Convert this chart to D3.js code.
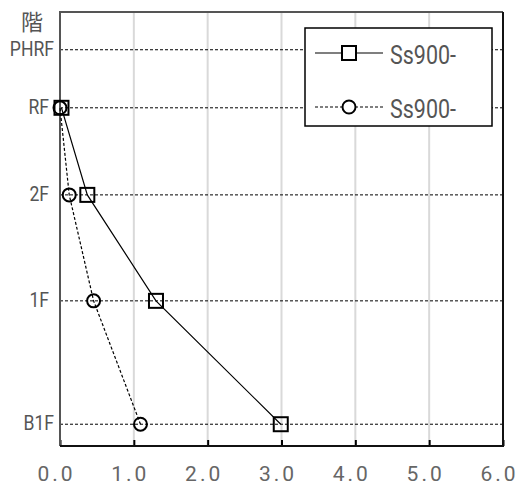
<!DOCTYPE html>
<html>
<head>
<meta charset="utf-8">
<script src="https://cdn.jsdelivr.net/npm/d3@7"></script>
<style>
  body { margin: 0; background: #fff; }
</style>
</head>
<body>
<div id="chart"></div>
<script>
// floors and their heights (m, from B1F)
var floors = ['B1F', '1F', '2F', 'RF', 'PHRF'];
var floorHeights = [0, 4.25, 7.9, 10.9, 12.9];

// two series, values per floor (B1F .. RF)
var seriesNames = ['Ss900-', 'Ss900-'];
var squareVals = [2.99, 1.30, 0.37, 0.02];
var circleVals = [1.09, 0.455, 0.125, 0.0];

var xTicks = [0, 1, 2, 3, 4, 5, 6];

var margin = {top: 12, right: 16, bottom: 44, left: 60},
    width = 519 - margin.left - margin.right,
    height = 490 - margin.top - margin.bottom;

var x = d3.scaleLinear().domain([0, 6]).range([0, width]);
var y = d3.scaleLinear().domain([-0.75, 14.2]).range([height, 0]);

var svg = d3.select('#chart').append('svg')
    .attr('width', 519)
    .attr('height', 490)
  .append('g')
    .attr('transform', 'translate(' + margin.left + ',' + margin.top + ')');

// vertical grid
svg.selectAll('.vgrid')
    .data(xTicks.slice(1, -1))
  .enter().append('line')
    .attr('x1', function(d) { return x(d); })
    .attr('x2', function(d) { return x(d); })
    .attr('y1', 0)
    .attr('y2', height)
    .attr('stroke', '#d9d9d9')
    .attr('stroke-width', 2);

// floor lines
svg.selectAll('.hgrid')
    .data(floorHeights)
  .enter().append('line')
    .attr('x1', 0)
    .attr('x2', width)
    .attr('y1', function(d) { return y(d); })
    .attr('y2', function(d) { return y(d); })
    .attr('stroke', '#000')
    .attr('stroke-width', 1)
    .attr('stroke-dasharray', '3,2');

// bottom axis, ticks pointing inward
var xAxis = svg.append('g')
    .attr('transform', 'translate(0,' + height + ')')
    .call(d3.axisBottom(x)
      .tickValues(xTicks)
      .tickSizeInner(-6)
      .tickSizeOuter(0)
      .tickFormat(d3.format('.1f')));
xAxis.select('.domain').remove();
xAxis.selectAll('line').attr('stroke', '#000').attr('stroke-width', 2);
xAxis.selectAll('text')
    .attr('y', 35)
    .attr('dy', 0)
    .attr('dx', -4)
    .attr('fill', '#666')
    .style('font-family', 'Roboto, sans-serif')
    .style('font-size', '21px')
    .style('letter-spacing', '3px');

// floor labels (narrowed)
svg.selectAll('.ylab')
    .data(floors)
  .enter().append('g')
    .attr('transform', function(d, i) {
      var dx = d.length > 2 ? -6 : -11;
      return 'translate(' + dx + ',' + y(floorHeights[i]) + ') scale(0.88,1)';
    })
  .append('text')
    .attr('dy', '0.3em')
    .attr('text-anchor', 'end')
    .attr('fill', '#555')
    .style('font-family', 'Roboto, sans-serif')
    .style('font-size', '20px')
    .text(function(d) { return d; });

svg.append('text')
    .attr('x', -28)
    .attr('y', 18)
    .attr('text-anchor', 'middle')
    .attr('fill', '#555')
    .style('font-family', '"Noto Sans CJK JP", sans-serif')
    .style('font-size', '22px')
    .text('階');

// frame
svg.append('path')
    .attr('d', 'M0,' + height + 'V0H' + width)
    .attr('fill', 'none')
    .attr('stroke', '#555')
    .attr('stroke-width', 2);
svg.append('path')
    .attr('d', 'M' + width + ',0V' + height + 'H0')
    .attr('fill', 'none')
    .attr('stroke', '#111')
    .attr('stroke-width', 2);

var pts = function(vals) {
  return vals.map(function(v, i) { return {x: v, y: floorHeights[i]}; });
};

var line = d3.line()
    .x(function(d) { return x(d.x); })
    .y(function(d) { return y(d.y); });

svg.append('path')
    .datum(pts(circleVals))
    .attr('fill', 'none')
    .attr('stroke', '#000')
    .attr('stroke-width', 1.2)
    .attr('stroke-dasharray', '3,2')
    .attr('d', line);

svg.append('path')
    .datum(pts(squareVals))
    .attr('fill', 'none')
    .attr('stroke', '#000')
    .attr('stroke-width', 1.2)
    .attr('d', line);

svg.selectAll('.sq')
    .data(pts(squareVals))
  .enter().append('rect')
    .attr('x', function(d) { return x(d.x) - 7; })
    .attr('y', function(d) { return y(d.y) - 7; })
    .attr('width', 14)
    .attr('height', 14)
    .attr('fill', 'none')
    .attr('stroke', '#000')
    .attr('stroke-width', 2);

svg.selectAll('.ci')
    .data(pts(circleVals))
  .enter().append('circle')
    .attr('cx', function(d) { return x(d.x); })
    .attr('cy', function(d) { return y(d.y); })
    .attr('r', 6.5)
    .attr('fill', 'none')
    .attr('stroke', '#000')
    .attr('stroke-width', 2);

// legend
var lg = svg.append('g')
    .attr('transform', 'translate(' + (305 - margin.left) + ',' + (28 - margin.top) + ')');

lg.append('rect')
    .attr('width', 187)
    .attr('height', 98)
    .attr('fill', '#fff')
    .attr('stroke', '#000')
    .attr('stroke-width', 1.5);

var rows = lg.selectAll('.row')
    .data(seriesNames)
  .enter().append('g')
    .attr('transform', function(d, i) { return 'translate(0,' + (25 + i * 54) + ')'; });

rows.append('line')
    .attr('x1', 10)
    .attr('x2', 78)
    .attr('stroke', '#000')
    .attr('stroke-width', 1.2)
    .attr('stroke-dasharray', function(d, i) { return i ? '3,2' : null; });

rows.filter(function(d, i) { return i === 0; })
  .append('rect')
    .attr('x', 37).attr('y', -7)
    .attr('width', 14).attr('height', 14)
    .attr('fill', '#fff')
    .attr('stroke', '#000')
    .attr('stroke-width', 2);

rows.filter(function(d, i) { return i === 1; })
  .append('circle')
    .attr('cx', 44)
    .attr('r', 6.5)
    .attr('fill', '#fff')
    .attr('stroke', '#000')
    .attr('stroke-width', 2);

rows.append('g')
    .attr('transform', 'translate(85,0) scale(0.86,1)')
  .append('text')
    .attr('dy', '0.44em')
    .attr('fill', '#555')
    .style('font-family', 'Roboto, sans-serif')
    .style('font-size', '25px')
    .text(function(d) { return d; });
</script>
</body>
</html>
